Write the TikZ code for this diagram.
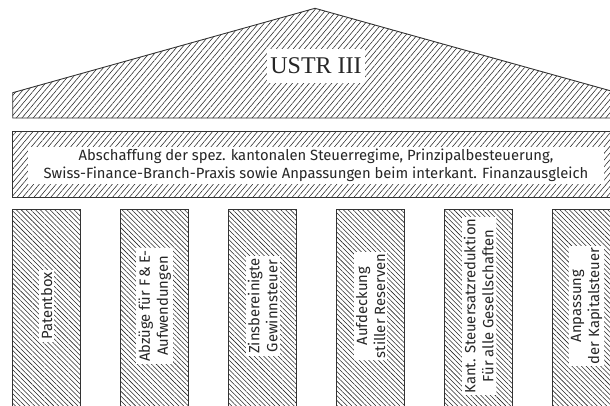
\documentclass[tikz,border=0pt]{standalone}
\usepackage{fontspec}
\setmainfont{Liberation Serif}
\newfontfamily\labelfont{Fira Sans}
\usetikzlibrary{patterns.meta}
\tikzset{
  outline/.style={draw=black!80, line width=0.9pt},
  roofhatch/.style={outline, pattern={Lines[angle=50,distance=4.3pt,line width=0.55pt]}, pattern color=black!85},
  pillarhatch/.style={outline, pattern={Lines[angle=-45,distance=3.4pt,line width=0.55pt]}, pattern color=black!85},
  whitelabel/.style={fill=white, inner sep=2pt, font=\labelfont\fontsize{14.8}{18}\selectfont, align=center, text=black!85},
  pillarlabel/.style={whitelabel, rotate=90}
}
\begin{document}
\begin{tikzpicture}[x=1pt,y=-1pt]
\useasboundingbox (0,0) rectangle (610,405);
\clip (0,0) rectangle (610,405);
% roof
\draw[roofhatch] (12.7,118) -- (12.7,92.7) -- (315,8.3) -- (617.3,92.7) -- (617.3,118) -- cycle;
\node[fill=white, inner xsep=3pt, inner ysep=9pt, font=\fontsize{24}{28}\selectfont, text=black!85] (ustr) at (316,66) {USTR III};
% band
\draw[roofhatch] (12.7,131.5) rectangle (622,197);
\node[whitelabel, inner xsep=16pt, inner ysep=2pt] (band) at (316,165.5) {Abschaffung der spez. kantonalen Steuerregime, Prinzipalbesteuerung,\\Swiss-Finance-Branch-Praxis sowie Anpassungen beim interkant. Finanzausgleich};
% pillars
\foreach \i in {0,...,5}{
  \draw[pillarhatch] ({12.7+108*\i},209) rectangle ({80.7+108*\i},430);
}
\node[pillarlabel] (p1) at (46.7,306) {Patentbox};
\node[pillarlabel] (p2) at (154.7,306) {Abzüge für F\,\&\,E-\\Aufwendungen};
\node[pillarlabel] (p3) at (262.7,306) {Zinsbereinigte\\Gewinnsteuer};
\node[pillarlabel] (p4) at (370.7,306) {Aufdeckung\\stiller Reserven};
\node[pillarlabel] (p5) at (478.7,306) {Kant. Steuersatzreduktion\\Für alle Gesellschaften};
\node[pillarlabel] (p6) at (586.7,306) {Anpassung\\der Kapitalsteuer};
\end{tikzpicture}
\end{document}
